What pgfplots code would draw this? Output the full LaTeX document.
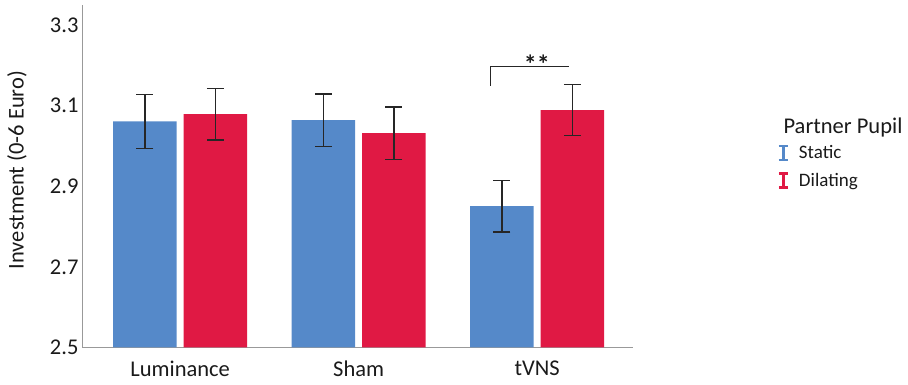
\documentclass[border=0pt]{standalone}
\usepackage{fontspec}
\setmainfont{Carlito}
\usepackage{pgfplots}
\pgfplotsset{compat=1.18}
\definecolor{cblue}{HTML}{5589C9}
\definecolor{cred}{HTML}{E01944}
\definecolor{txt}{HTML}{1A1A1A}
\pgfplotsset{Iicon/.style={legend image code/.code={
  \draw[line width=3.2pt,#1] (6.5pt,-7pt) -- (6.5pt,7pt);
  \draw[line width=2.4pt,#1] (2pt,7pt) -- (11pt,7pt);
  \draw[line width=2.4pt,#1] (2pt,-7pt) -- (11pt,-7pt);
}}}
\begin{document}
\begin{tikzpicture}
\useasboundingbox (0,0) rectangle (908pt,385pt);
\begin{axis}[
  at={(82pt,37.5pt)}, anchor=south west,
  scale only axis, width=551pt, height=342.5pt,
  xmin=-0.55, xmax=2.537, ymin=2.5, ymax=3.35,
  axis x line*=bottom, axis y line*=left,
  axis line style={black!40, line width=1pt, -},
  major tick length=0pt,
  xtick={0,1,2}, xticklabels={Luminance,Sham,tVNS},
  ytick={2.5,2.7,2.9,3.1,3.3},
  /pgf/number format/assume math mode=true,
  yticklabel style={/pgf/number format/fixed, /pgf/number format/fixed zerofill, /pgf/number format/precision=1},
  tick label style={font=\fontsize{22.5}{25}\selectfont, text=txt},
  xticklabel style={yshift=-12.5pt, inner sep=1pt},
  ylabel={Investment (0-6 Euro)},
  ylabel style={font=\fontsize{22.5}{25}\selectfont, text=txt, at={(rel axis cs:-0.118,0.518)}, anchor=center, rotate=0},
  ybar=7pt, bar width=63.5pt,
  clip=false,
  legend style={at={(axis description cs:1.262,0.596)}, anchor=north west, draw=none, fill=none,
    font=\fontsize{19}{21}\selectfont, text=txt, inner sep=0pt, row sep=9pt,
    /tikz/every odd column/.append style={column sep=8pt}},
  legend cell align=left,
  error bars/error bar style={line width=1.3pt, black!85},
  error bars/error mark options={rotate=90, line width=1.3pt, mark size=8.5pt, black!85},
]
\addplot[fill=cblue, draw=none, Iicon={cblue},
  error bars/.cd, y dir=both, y explicit,
  ] coordinates {(0,3.061) +- (0,0.067) (1,3.064) +- (0,0.065) (2,2.851) +- (0,0.064)};
\addlegendentry{Static}
\addplot[fill=cred, draw=none, Iicon={cred},
  error bars/.cd, y dir=both, y explicit,
  ] coordinates {(0,3.079) +- (0,0.064) (1,3.032) +- (0,0.065) (2,3.089) +- (0,0.063)};
\addlegendentry{Dilating}
\draw[black!85, line width=1pt] (axis cs:1.736,3.149) -- (axis cs:1.736,3.197) -- (axis cs:2.178,3.197);
\node[font=\fontsize{26}{28}\selectfont\bfseries, text=txt] at (axis cs:1.998,3.204) {**};
\end{axis}
\node[font=\fontsize{22.5}{25}\selectfont, text=txt] at (843pt,257pt) {Partner Pupil};
\end{tikzpicture}
\end{document}
